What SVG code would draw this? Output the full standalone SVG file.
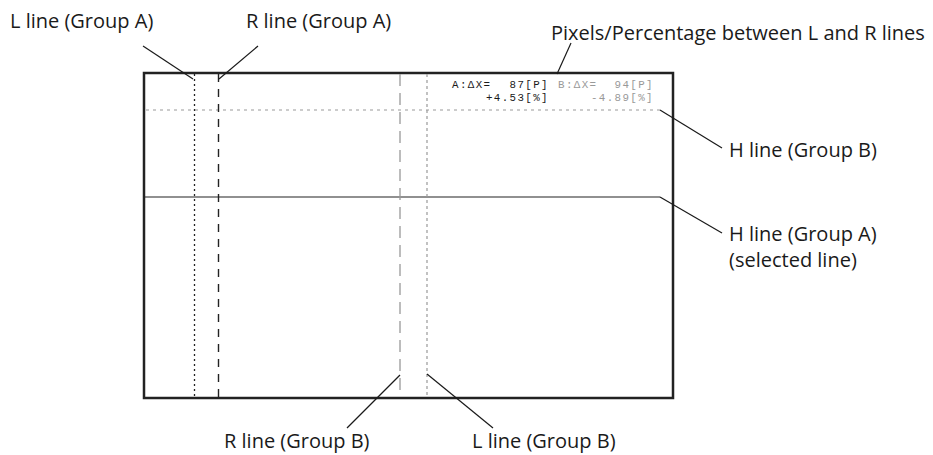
<svg xmlns="http://www.w3.org/2000/svg" width="933" height="455" viewBox="0 0 933 455">
<style>
.lbl{font-family:"Open Sans","Noto Sans","Liberation Sans",sans-serif;font-size:20px;fill:#1a1a1a}
.mono{font-family:"Liberation Mono","DejaVu Sans Mono",monospace;font-size:10.8px;letter-spacing:1.4px}
.a{fill:#1a1a1a}
.b{fill:#999}
.lead{stroke:#1a1a1a;stroke-width:1.2;fill:none}
</style>
<rect width="933" height="455" fill="#fff"/>
<g id="screen">
<rect x="144" y="73" width="529" height="325" fill="#fff" stroke="#222" stroke-width="2.5"/>
</g>
<g id="lines">
<line id="hB" x1="146" y1="110" x2="660" y2="110" stroke="#999" stroke-width="1.2" stroke-dasharray="3,4"/>
<line id="hA" x1="145" y1="197" x2="660" y2="197" stroke="#222" stroke-width="1.2"/>
<line id="lA" x1="194.5" y1="74" x2="194.5" y2="397" stroke="#222" stroke-width="1.3" stroke-dasharray="2,3"/>
<line id="rA" x1="218.5" y1="74" x2="218.5" y2="397" stroke="#222" stroke-width="1.4" stroke-dasharray="8,7"/>
<line id="rB" x1="400" y1="74" x2="400" y2="397" stroke="#999" stroke-width="1.3" stroke-dasharray="12,7"/>
<line id="lB" x1="427" y1="74" x2="427" y2="397" stroke="#999" stroke-width="1.2" stroke-dasharray="3,3"/>
</g>
<g id="readout" class="mono">
<text class="a" x="452" y="88">A:ΔX=</text>
<text class="a" x="549" y="88" text-anchor="end">87[P]</text>
<text class="b" x="558" y="88">B:ΔX=</text>
<text class="b" x="654" y="88" text-anchor="end">94[P]</text>
<text class="a" x="549" y="100.5" text-anchor="end">+4.53[%]</text>
<text class="b" x="654" y="100.5" text-anchor="end">-4.89[%]</text>
</g>
<g id="connectors">
<line class="lead" x1="143" y1="46" x2="193" y2="79"/>
<line class="lead" x1="258" y1="46" x2="219" y2="79"/>
<line class="lead" x1="571" y1="43" x2="557" y2="74"/>
<line class="lead" x1="660" y1="110" x2="722" y2="148"/>
<line class="lead" x1="660" y1="197" x2="722" y2="233"/>
<line class="lead" x1="400" y1="375" x2="347" y2="428"/>
<line class="lead" x1="427" y1="374" x2="493" y2="428"/>
</g>
<g id="label-lA"><text class="lbl" x="10" y="28">L line (Group A)</text></g>
<g id="label-rA"><text class="lbl" x="246" y="28">R line (Group A)</text></g>
<g id="label-px"><text class="lbl" x="551" y="40">Pixels/Percentage between L and R lines</text></g>
<g id="label-hB"><text class="lbl" x="729" y="157">H line (Group B)</text></g>
<g id="label-hA"><text class="lbl" x="729" y="241">H line (Group A)</text><text class="lbl" x="729" y="267">(selected line)</text></g>
<g id="label-rB"><text class="lbl" x="224" y="448">R line (Group B)</text></g>
<g id="label-lB"><text class="lbl" x="472" y="448">L line (Group B)</text></g>
</svg>
